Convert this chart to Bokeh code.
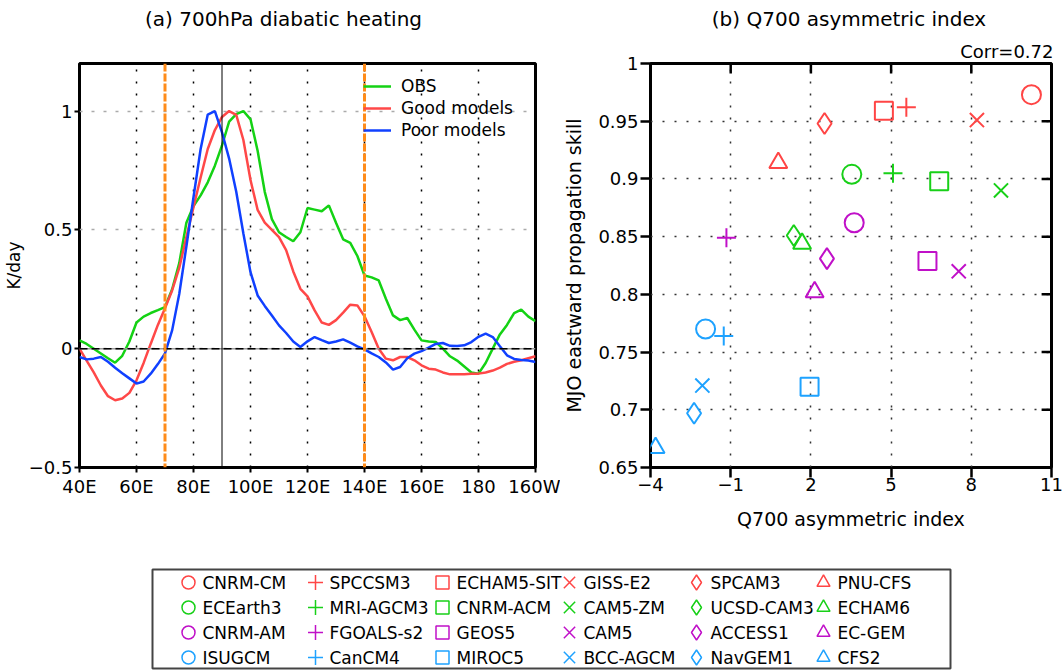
from bokeh.plotting import figure
from bokeh.models import (Range1d, FixedTicker, Span, ColumnDataSource)
from bokeh.layouts import column, row
from bokeh.core.properties import value
from bokeh.embed import file_html
from bokeh.resources import INLINE

FONT = "DejaVu Sans"

# ---------------- panel (a) data ----------------
lon = [40 + 2.5 * i for i in range(65)]
obs = [0.035, 0.02, 0.0, -0.02, -0.04, -0.059, -0.03, 0.03, 0.11, 0.135,
       0.15, 0.162, 0.175, 0.25, 0.36, 0.53, 0.60, 0.645, 0.70, 0.77,
       0.855, 0.955, 0.987, 1.0, 0.965, 0.833, 0.66, 0.545, 0.49, 0.47,
       0.452, 0.49, 0.592, 0.585, 0.578, 0.603, 0.53, 0.46, 0.445, 0.39,
       0.308, 0.30, 0.287, 0.21, 0.14, 0.12, 0.129, 0.08, 0.035, 0.03,
       0.028, 0.0, -0.032, -0.05, -0.075, -0.10, -0.105, -0.06, 0.0, 0.06,
       0.10, 0.15, 0.164, 0.135, 0.116]
good = [0.0, -0.05, -0.10, -0.155, -0.20, -0.217, -0.21, -0.186, -0.133, -0.06,
        0.021, 0.10, 0.17, 0.245, 0.34, 0.47, 0.595, 0.72, 0.84, 0.92,
        0.975, 1.0, 0.984, 0.878, 0.71, 0.584, 0.53, 0.50, 0.469, 0.415,
        0.325, 0.252, 0.22, 0.161, 0.11, 0.10, 0.12, 0.152, 0.185, 0.182,
        0.136, 0.07, 0.0, -0.042, -0.049, -0.035, -0.035, -0.049, -0.07, -0.084,
        -0.088, -0.10, -0.108, -0.108, -0.108, -0.106, -0.105, -0.10, -0.092, -0.08,
        -0.064, -0.055, -0.049, -0.04, -0.032]
poor = [-0.035, -0.045, -0.042, -0.035, -0.055, -0.08, -0.103, -0.125, -0.147, -0.138,
        -0.105, -0.065, -0.02, 0.077, 0.23, 0.43, 0.637, 0.84, 0.985, 1.0,
        0.91, 0.80, 0.66, 0.485, 0.322, 0.224, 0.18, 0.14, 0.098, 0.066,
        0.03, 0.007, 0.031, 0.049, 0.036, 0.024, 0.03, 0.039, 0.025, 0.01,
        -0.003, -0.02, -0.035, -0.058, -0.088, -0.077, -0.04, -0.021, -0.01, 0.004,
        0.02, 0.024, 0.012, 0.011, 0.014, 0.028, 0.05, 0.063, 0.049, 0.01,
        -0.028, -0.043, -0.048, -0.05, -0.056]
series_names = ["OBS", "Good models", "Poor models"]

lon_ticks = [40, 60, 80, 100, 120, 140, 160, 180, 200]
lon_labels = ["40E", "60E", "80E", "100E", "120E", "140E", "160E", "180", "160W"]
heat_ticks = [-0.5, 0, 0.5, 1]
heat_labels = ["\u22120.5", "0", "0.5", "1"]
box_lons = [70, 140]
center_lon = 90

# ---------------- panel (b) data ----------------
model_names = [
    "CNRM-CM", "SPCCSM3", "ECHAM5-SIT", "GISS-E2", "SPCAM3", "PNU-CFS",
    "ECEarth3", "MRI-AGCM3", "CNRM-ACM", "CAM5-ZM", "UCSD-CAM3", "ECHAM6",
    "CNRM-AM", "FGOALS-s2", "GEOS5", "CAM5", "ACCESS1", "EC-GEM",
    "ISUGCM", "CanCM4", "MIROC5", "BCC-AGCM", "NavGEM1", "CFS2",
]
asym_index = [10.25, 5.57, 4.73, 8.21, 2.51, 0.78,
              3.53, 5.07, 6.80, 9.11, 1.36, 1.67,
              3.62, -1.16, 6.36, 7.53, 2.60, 2.14,
              -1.94, -1.26, 1.95, -2.06, -2.37, -3.81]
prop_skill = [0.973, 0.962, 0.959, 0.951, 0.948, 0.914,
              0.904, 0.905, 0.898, 0.890, 0.851, 0.844,
              0.862, 0.849, 0.829, 0.820, 0.831, 0.802,
              0.770, 0.764, 0.720, 0.721, 0.697, 0.667]
corr_text = "Corr=0.72"
asym_ticks = [-4, -1, 2, 5, 8, 11]
asym_labels = ["\u22124", "\u22121", "2", "5", "8", "11"]
skill_ticks = [0.65, 0.7, 0.75, 0.8, 0.85, 0.9, 0.95, 1.0]
skill_labels = ["0.65", "0.7", "0.75", "0.8", "0.85", "0.9", "0.95", "1"]

panel_titles = ["(a) 700hPa diabatic heating", "(b) Q700 asymmetric index"]

# ---------------- styles ----------------
line_colors = ["#14d214", "#ff4848", "#1040ff"]
group_colors = ["#ff4545", "#18d018", "#c010c8", "#1ea2ff"]
marker_types = ["circle", "cross", "square", "x", "diamond", "triangle"]
marker_sizes = [19, 19, 18, 20, 21, 18]
legend_marker_sizes = [13, 15, 13, 16, 15, 13]
ORANGE = "#ff8c1a"

W = 1064
STRIP_H = 36
TOP_H = 499
FRAME_TOP = 26
FRAME_BOTTOM = 68
P1_W, P1_L, P1_R = 560, 73, 25
P2_W, P2_L, P2_R = 504, 86, 13

# ================= title strip =================
p0 = figure(width=W, height=STRIP_H, x_range=Range1d(0, W), y_range=Range1d(STRIP_H, 0),
            output_backend="svg", toolbar_location=None,
            min_border_left=0, min_border_right=0, min_border_top=0, min_border_bottom=0)
p0.axis.visible = False
p0.grid.visible = False
p0.outline_line_color = None
title_x = [P1_L + (P1_W - P1_L - P1_R) / 2 - 21,          # panel (a): slightly left of frame centre
           P1_W + P2_L + (P2_W - P2_L - P2_R) / 2]         # panel (b): centred on frame
p0.text(x=title_x, y=[STRIP_H / 2] * 2, text=panel_titles, text_font=value(FONT),
        text_font_size=value("20px"), text_align="center", text_baseline="middle",
        text_color="black")

# ================= panel (a) =================
p1 = figure(width=P1_W, height=TOP_H, x_range=Range1d(40, 200), y_range=Range1d(-0.5, 1.2),
            output_backend="svg", toolbar_location=None,
            min_border_left=P1_L, min_border_right=P1_R, min_border_top=FRAME_TOP,
            min_border_bottom=FRAME_BOTTOM)
p1.outline_line_color = "black"
p1.outline_line_width = 3
p1.title.visible = False

xa = p1.below[0]
xa.ticker = FixedTicker(ticks=lon_ticks)
xa.major_label_overrides = dict(zip(lon_ticks, lon_labels))
ya = p1.left[0]
ya.ticker = FixedTicker(ticks=heat_ticks)
ya.major_label_overrides = dict(zip(heat_ticks, heat_labels))
ya.axis_label = "K/day"
ya.axis_label_standoff = 2
for ax in (xa, ya):
    ax.axis_line_color = None
    ax.major_tick_out = 5
    ax.major_tick_in = 0
    ax.major_tick_line_width = 2
    ax.minor_tick_line_color = None
    ax.major_label_text_font = FONT
    ax.major_label_text_font_size = "18px"
    ax.major_label_text_color = "black"
    ax.axis_label_text_font = FONT
    ax.axis_label_text_font_size = "17px"
    ax.axis_label_text_font_style = "normal"
    ax.axis_label_text_color = "black"
xa.major_label_standoff = 3
ya.major_label_standoff = 2

p1.xgrid.ticker = FixedTicker(ticks=lon_ticks[1:-1])
p1.xgrid.grid_line_color = "black"
p1.xgrid.grid_line_dash = "2 10"
p1.xgrid.grid_line_width = 1.5
p1.ygrid.ticker = FixedTicker(ticks=heat_ticks)
p1.ygrid.grid_line_color = "#aaaaaa"
p1.ygrid.grid_line_dash = "3 9"
p1.ygrid.grid_line_width = 1.5

p1.add_layout(Span(location=0, dimension="width", line_color="#999999", line_width=1.5))
p1.add_layout(Span(location=0, dimension="width", line_color="black", line_width=1.5, line_dash="8 4"))
p1.add_layout(Span(location=center_lon, dimension="height", line_color="black", line_width=1))
for bl in box_lons:
    p1.add_layout(Span(location=bl, dimension="height", line_color=ORANGE, line_width=3, line_dash="8 2"))

for ys, nm, c in zip([obs, good, poor], series_names, line_colors):
    p1.line(lon, ys, line_color=c, line_width=2.5, legend_label=nm)

lg = p1.legend[0]
lg.location = (284, 327)
lg.border_line_color = None
lg.background_fill_alpha = 0
lg.label_text_font = FONT
lg.label_text_font_size = "17px"
lg.label_text_color = "black"
lg.glyph_width = 28
lg.glyph_height = 20
lg.label_height = 20
lg.spacing = 2
lg.padding = 5
lg.margin = 0
lg.label_standoff = 10

# ================= panel (b) =================
p2 = figure(width=P2_W, height=TOP_H, x_range=Range1d(-4, 11), y_range=Range1d(0.65, 1.0),
            output_backend="svg", toolbar_location=None,
            min_border_left=P2_L, min_border_right=P2_R, min_border_top=FRAME_TOP,
            min_border_bottom=FRAME_BOTTOM)
p2.outline_line_color = "black"
p2.outline_line_width = 3

p2.title.text = corr_text
p2.title.align = "right"
p2.title.standoff = 4
p2.title.offset = -2
p2.title.text_font = FONT
p2.title.text_font_size = "18px"
p2.title.text_font_style = "normal"
p2.title.text_color = "black"

bx = p2.xaxis[0]
bx.ticker = FixedTicker(ticks=asym_ticks)
bx.major_label_overrides = dict(zip(asym_ticks, asym_labels))
bx.axis_label = "Q700 asymmetric index"
ly = p2.yaxis[0]
ly.ticker = FixedTicker(ticks=skill_ticks)
ly.major_label_overrides = dict(zip(skill_ticks, skill_labels))
ly.axis_label = "MJO eastward propagation skill"
for ax in (bx, ly):
    ax.axis_line_color = None
    ax.major_tick_out = 10
    ax.major_tick_in = 0
    ax.major_tick_line_width = 2.5
    ax.minor_tick_line_color = None
    ax.major_label_text_font = FONT
    ax.major_label_text_font_size = "18px"
    ax.major_label_text_color = "black"
    ax.axis_label_text_font = FONT
    ax.axis_label_text_font_size = "19px"
    ax.axis_label_text_font_style = "normal"
    ax.axis_label_text_color = "black"
bx.major_label_standoff = 0
bx.axis_label_standoff = 14
ly.major_label_standoff = 2
ly.axis_label_standoff = 10

p2.xgrid.ticker = FixedTicker(ticks=asym_ticks[1:-1])
p2.ygrid.ticker = FixedTicker(ticks=skill_ticks[1:-1])
for g in (p2.xgrid, p2.ygrid):
    g.grid_line_color = "#333333"
    g.grid_line_dash = "2 10"
    g.grid_line_width = 1.5

# inward mirror ticks on top and right edges (10 px long)
frame_w = P2_W - P2_L - P2_R
frame_h = TOP_H - FRAME_TOP - FRAME_BOTTOM
tick_dx = 10 * (11 - (-4)) / frame_w
tick_dy = 10 * (1.0 - 0.65) / frame_h
top_t = asym_ticks[1:-1]
right_t = skill_ticks[1:-1]
p2.segment(x0=top_t, y0=[1.0] * len(top_t), x1=top_t, y1=[1.0 - tick_dy] * len(top_t),
           line_color="black", line_width=2.5)
p2.segment(x0=[11] * len(right_t), y0=right_t, x1=[11 - tick_dx] * len(right_t), y1=right_t,
           line_color="black", line_width=2.5)

src = ColumnDataSource(dict(
    x=asym_index, y=prop_skill,
    color=[group_colors[i // 6] for i in range(len(model_names))],
    marker=[marker_types[i % 6] for i in range(len(model_names))],
    size=[marker_sizes[i % 6] for i in range(len(model_names))],
))
p2.scatter("x", "y", source=src, marker="marker", size="size", line_color="color",
           fill_color=None, line_width=2)

# ================= legend panel =================
LEG_H = 671 - STRIP_H - TOP_H
p3 = figure(width=W, height=LEG_H, x_range=Range1d(0, W), y_range=Range1d(LEG_H, 0),
            output_backend="svg", toolbar_location=None,
            min_border_left=0, min_border_right=0, min_border_top=0, min_border_bottom=0)
p3.axis.visible = False
p3.grid.visible = False
p3.outline_line_color = None

box_top = 569 - STRIP_H - TOP_H
p3.quad(left=[152], right=[950], top=[box_top], bottom=[box_top + 99], fill_color=None,
        line_color="#444444", line_width=2)
col_x0, col_dx, row_y0, row_dy = 188, 127, box_top + 13, 25
lx = [col_x0 + col_dx * (i % 6) for i in range(len(model_names))]
lyy = [row_y0 + row_dy * (i // 6) for i in range(len(model_names))]
lsrc = ColumnDataSource(dict(
    x=lx, y=lyy, tx=[v + 14 for v in lx], name=model_names,
    color=[group_colors[i // 6] for i in range(len(model_names))],
    marker=[marker_types[i % 6] for i in range(len(model_names))],
    size=[legend_marker_sizes[i % 6] for i in range(len(model_names))],
))
p3.scatter("x", "y", source=lsrc, marker="marker", size="size", line_color="color",
           fill_color=None, line_width=1.5)
p3.text("tx", "y", text="name", source=lsrc, text_font=value(FONT), text_font_size=value("17px"),
        text_baseline="middle", text_align="left", text_color="black")

layout = column(p0, row(p1, p2), p3)
open("out.html", "w").write(file_html(layout, INLINE))
